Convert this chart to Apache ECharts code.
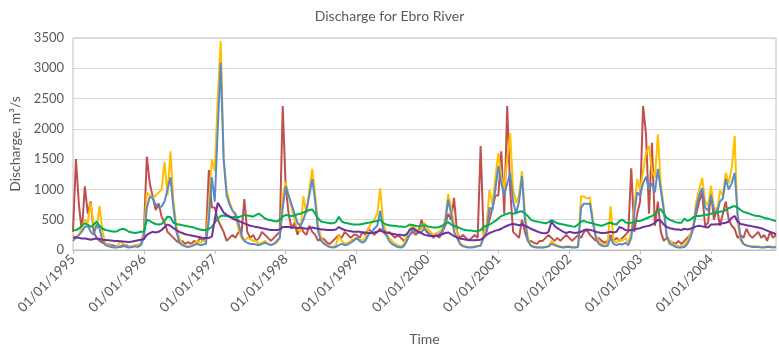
<!DOCTYPE html>
<html>
<head>
<meta charset="utf-8">
<script src="https://cdn.jsdelivr.net/npm/echarts@6/dist/echarts.min.js"></script>
<style>html,body{margin:0;padding:0;background:#fff}#c{width:779px;height:353px}</style>
</head>
<body>
<div id="c"></div>
<script>
// Half-monthly samples (1st and 16th of each month), 01/01/1995 .. 01/12/2004
const yearLabels = ['1995','1996','1997','1998','1999','2000','2001','2002','2003','2004'];
const yTicks = [0, 500, 1000, 1500, 2000, 2500, 3000, 3500];

const red = [
  300,1500,750,300,1050,600,800,300,200,150,120,100,90,80,70,60,50,60,80,50,60,70,80,100,
  300,1540,1100,880,660,770,550,450,300,250,200,150,120,150,100,130,100,150,120,200,150,200,1320,700,
  700,500,400,300,150,200,250,200,300,250,840,300,200,250,150,200,300,250,200,150,200,250,300,2375,
  1050,600,350,450,250,400,300,250,400,300,250,150,200,180,120,100,150,200,250,200,300,250,200,250,
  250,200,300,250,350,300,250,300,350,300,250,300,250,200,250,200,150,200,250,300,250,300,500,350,
  300,250,200,250,200,300,400,600,500,860,300,200,250,200,150,200,250,200,1715,250,300,500,700,900,
  900,1630,600,2375,1000,300,250,200,500,300,150,150,120,100,150,150,200,250,200,150,200,150,200,250,
  200,150,200,250,200,300,330,250,200,150,200,150,120,150,250,150,200,150,200,250,300,1350,300,600,
  800,2375,1910,600,1770,400,800,300,150,200,150,120,100,150,100,150,200,250,400,600,800,945,400,450,
  950,500,700,400,600,800,500,400,350,200,250,200,350,250,200,250,300,200,250,150,300,200,250
];
const yellow = [
  250,200,250,350,500,450,780,400,350,730,300,100,80,60,50,60,150,100,60,50,60,80,70,100,
  250,950,900,850,900,950,1000,1450,900,1630,800,400,200,100,60,50,80,100,150,120,150,130,700,1500,
  1300,2500,3450,1500,1000,800,650,550,350,200,150,200,180,150,150,100,120,150,100,80,100,120,200,900,
  1120,900,700,500,350,300,890,600,1000,1340,900,400,200,120,80,50,50,80,250,150,100,120,150,180,
  200,180,150,200,350,450,500,600,1020,450,300,200,150,100,80,60,100,250,350,420,350,300,350,450,
  350,300,250,280,300,350,500,920,700,400,300,120,80,60,50,50,60,70,80,250,400,990,750,1200,
  1600,1200,1000,1500,1930,1000,780,900,1300,600,200,80,60,50,50,40,50,60,150,100,80,60,50,60,
  60,50,50,60,890,880,850,870,500,250,150,100,90,100,720,150,120,180,150,200,120,300,700,1170,
  1000,1300,1600,1715,1300,1200,1910,1100,700,250,150,100,80,60,60,80,150,250,400,800,1000,1190,800,730,
  1060,700,600,980,900,1275,1100,1350,1880,450,150,100,80,70,60,60,60,50,50,60,60,50,60
];
const blue = [
  150,200,250,300,380,400,300,250,420,350,150,80,60,50,40,40,60,80,50,40,50,60,50,80,
  200,700,880,850,750,700,720,800,1000,1200,700,300,120,80,60,50,60,80,100,80,90,100,500,1200,
  800,2000,3090,1500,900,750,650,600,450,250,150,120,100,100,90,80,100,120,100,80,100,150,200,700,
  1050,900,750,600,450,400,500,650,900,1170,800,300,150,100,70,50,40,50,80,100,80,90,120,150,
  200,150,120,150,250,300,350,400,650,350,250,150,100,70,50,40,60,150,250,330,300,280,300,350,
  280,250,220,240,260,300,450,830,600,300,200,100,60,50,40,40,50,60,70,200,300,700,650,1000,
  1390,1100,900,1100,1270,800,600,800,1220,500,150,70,50,40,40,40,50,60,100,80,60,50,40,50,
  50,40,40,50,700,770,760,770,450,200,100,70,60,70,200,100,80,100,90,120,80,200,600,950,
  900,1100,1210,1000,1100,950,1340,990,660,230,100,80,50,40,40,50,100,200,350,700,900,1020,700,650,
  900,650,600,800,850,1170,1000,1100,1275,600,200,100,70,60,50,50,50,40,40,50,50,40,50
];
const green = [
  320,330,350,400,440,420,380,420,470,400,350,330,320,310,300,310,340,350,330,300,290,280,290,300,
  300,500,480,450,430,420,430,480,550,540,450,430,420,410,400,390,380,370,350,340,330,330,350,380,
  450,520,560,570,560,550,540,550,540,560,580,570,560,550,580,600,560,520,500,490,480,470,500,550,
  580,570,560,570,590,600,620,640,660,670,600,520,470,460,450,440,440,460,550,470,450,440,430,420,
  420,420,430,440,450,460,470,480,500,450,420,410,400,400,390,390,380,390,420,410,400,390,400,410,
  390,380,370,370,380,400,430,460,420,400,380,360,340,330,320,320,310,310,330,380,400,420,450,480,
  520,560,580,600,610,600,610,630,640,600,560,500,480,470,460,450,440,460,495,470,440,430,420,410,
  400,390,385,420,470,480,460,450,440,420,410,400,420,440,450,430,420,480,500,460,440,450,460,480,
  480,500,520,540,560,600,650,675,600,530,500,480,460,450,450,520,480,500,540,560,560,570,580,580,
  600,610,620,630,640,660,690,710,726,700,660,630,616,600,580,565,560,550,530,520,510,490,480
];
const purple = [
  200,210,200,190,190,180,170,180,190,180,170,165,160,155,150,150,145,140,135,130,140,150,160,170,
  180,250,280,300,290,300,330,380,420,400,360,330,300,280,260,250,240,230,220,210,200,200,200,220,
  500,780,700,620,580,550,520,500,480,460,440,420,400,390,380,370,360,350,340,330,330,330,340,380,
  380,380,370,370,360,370,360,350,360,370,360,350,340,340,330,330,330,340,380,350,330,320,310,300,
  300,300,290,290,280,280,290,300,320,300,290,280,270,260,250,250,240,260,330,360,330,300,280,250,
  240,230,230,230,240,260,280,290,260,230,210,190,180,170,170,160,160,165,170,200,250,280,300,320,
  330,350,380,400,420,430,420,410,420,400,380,350,330,310,290,280,275,300,470,400,360,330,300,280,
  300,290,280,290,300,330,340,330,320,300,290,280,280,290,300,290,300,380,360,330,320,330,340,350,
  360,380,390,400,420,450,500,480,420,380,360,350,340,340,330,350,340,350,370,390,400,390,380,370,
  420,420,425,430,440,450,470,530,561,470,430,420,410,400,390,380,370,360,340,320,300,280,260
];

// category dates
const dates = [];
yearLabels.forEach(y => {
  for (let m = 1; m <= 12; m++) {
    ['01','16'].forEach(d => dates.push(d + '/' + String(m).padStart(2,'0') + '/' + y));
  }
});
dates.length = red.length;

const txt = '#595959';
const font = 'Lato, "Open Sans", sans-serif';
const isYearStart = (i) => i % 24 === 0;

const chart = echarts.init(document.getElementById('c'), null, {renderer: 'canvas'});
const mk = (name, data, color) => ({
  name, type: 'line', data, showSymbol: false, symbol: 'none',
  lineStyle: {color, width: 2}, itemStyle: {color}, animation: false
});
chart.setOption({
  animation: false,
  title: {text: 'Discharge for Ebro River', left: 'center', top: 4,
    textStyle: {color: txt, fontSize: 14, fontWeight: 'normal', fontFamily: font}},
  grid: {left: 73, right: 3, top: 38, bottom: 103, show: true, borderColor: '#bfbfbf', borderWidth: 1},
  xAxis: {
    type: 'category', data: dates, boundaryGap: false,
    name: 'Time', nameLocation: 'middle', nameGap: 82,
    nameTextStyle: {color: txt, fontSize: 14, fontFamily: font},
    axisLine: {lineStyle: {color: '#bfbfbf'}},
    axisTick: {show: true, interval: (i) => isYearStart(i), length: 4, lineStyle: {color: '#bfbfbf'}},
    axisLabel: {interval: (i) => isYearStart(i), rotate: 45, color: txt, fontSize: 13.5, fontFamily: font, margin: 7},
    splitLine: {show: false}
  },
  yAxis: {
    type: 'value', min: yTicks[0], max: yTicks[yTicks.length - 1], interval: 500,
    name: 'Discharge, m³/s', nameLocation: 'middle', nameGap: 50,
    nameTextStyle: {color: txt, fontSize: 14, fontFamily: font},
    axisLine: {show: false}, axisTick: {show: false},
    axisLabel: {color: txt, fontSize: 13, fontFamily: font, margin: 9, formatter: (v) => String(v)},
    splitLine: {lineStyle: {color: '#d9d9d9'}}
  },
  series: [
    mk('Red', red, '#C0504D'),
    mk('Yellow', yellow, '#FFC000'),
    mk('Blue', blue, '#5B8BC6'),
    mk('Green', green, '#00B050'),
    mk('Purple', purple, '#7030A0')
  ]
});
</script>
</body>
</html>
